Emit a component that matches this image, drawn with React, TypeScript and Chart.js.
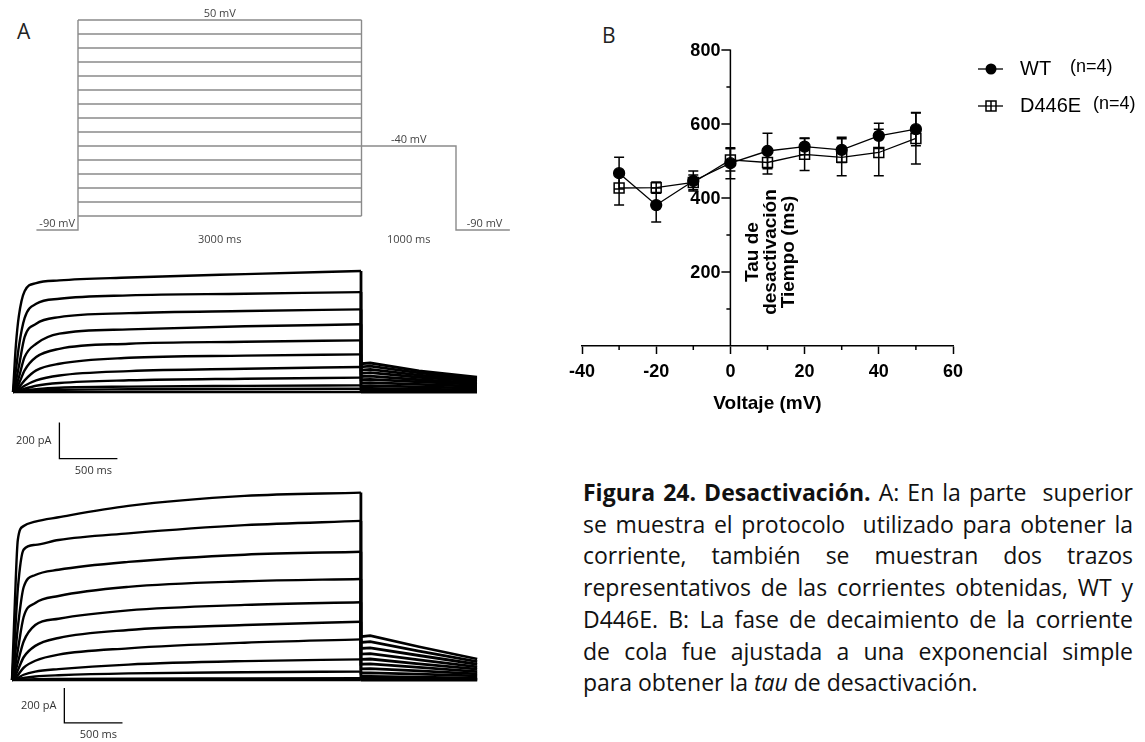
import React, { useEffect, useRef } from 'react';
import { Chart, registerables } from 'chart.js';

Chart.register(...registerables);

// ================= Panel B data (tau of deactivation vs voltage) =================
const voltages = [-30, -20, -10, 0, 10, 20, 30, 40, 50];
const wtTau = [467, 381, 446, 494, 527, 539, 530, 568, 586];
const wtSem = [43, 46, 27, 42, 48, 22, 34, 34, 45];
const d446eTau = [427, 428, 442, 503, 496, 518, 510, 523, 561];
const d446eSem = [46, 15, 20, 30, 31, 44, 50, 63, 69];
const bXTicks = [-40, -20, 0, 20, 40, 60];
const bXMinorTicks = [-30, -10, 10, 30, 50];
const bYTicks = [200, 400, 600, 800];
const bYMinorTicks = [100, 300, 500, 700];
const bYTitleLines = ['Tau de', 'desactivación', 'Tiempo (ms)'];
const bXTitle = 'Voltaje (mV)';
const legendLabels = ['WT', 'D446E'];
const legendN = ['(n=4)', '(n=4)'];

// ================= Panel A: voltage protocol (schematic) =================
const stepLevels = [50, 40, 30, 20, 10, 0, -10, -20, -30, -40, -50, -60, -70, -80, -90];
const tailLevel = -40;
const holdingLevelDrawn = -100; // holding drawn just below the step family in the schematic
const stepDurationMs = 3000;
const tailDurationMs = 1000;
const preHoldMs = 440;
const postHoldMs = 570;

// ================= Panel A: current traces (pA) =================
const riseTimes = [0, 25, 50, 100, 200, 400, 1000, 2000, 3000];
const tailTimes = [3000, 3080, 3500, 4000];

const wtRise = [
  [0, 260, 420, 560, 605, 620, 636, 655, 672],
  [0, 120, 250, 410, 490, 518, 537, 546, 555],
  [0, 60, 140, 305, 379, 416, 438, 450, 459],
  [0, 30, 80, 194, 268, 324, 348, 365, 376],
  [0, 18, 45, 120, 194, 240, 268, 279, 287],
  [0, 10, 25, 65, 120, 157, 190, 202, 209],
  [0, 6, 14, 35, 65, 92, 116, 129, 139],
  [0, 3, 7, 18, 35, 50, 65, 74, 80],
  [0, 2, 4, 9, 16, 24, 30, 34, 37],
  [0, 1, 2, 4, 8, 12, 15, 17, 18],
  [0, 0, 0, 0, 0, 0, 0, 0, 0],
];
const wtTail = [
  [157, 161, 117, 83],
  [140, 144, 106, 76],
  [122, 126, 94, 68],
  [104, 108, 82, 60],
  [86, 88, 68, 50],
  [68, 70, 56, 42],
  [50, 52, 42, 32],
  [34, 35, 28, 22],
  [20, 20, 16, 12],
  [10, 10, 8, 6],
  [0, 0, 0, 0],
];

const mutRise = [
  [0, 450, 800, 880, 905, 930, 995, 1052, 1071],
  [0, 250, 520, 745, 772, 800, 838, 885, 909],
  [0, 130, 300, 530, 600, 630, 675, 716, 733],
  [0, 70, 170, 360, 440, 480, 532, 564, 577],
  [0, 40, 100, 220, 314, 350, 398, 429, 444],
  [0, 20, 55, 130, 195, 240, 286, 314, 333],
  [0, 10, 28, 70, 110, 145, 181, 213, 232],
  [0, 5, 12, 30, 48, 62, 88, 108, 118],
  [0, 2, 5, 12, 20, 27, 38, 44, 48],
  [0, 1, 1, 3, 5, 6, 8, 9, 10],
  [0, 0, 0, 0, 0, 0, 0, 0, 0],
];
const mutTail = [
  [248, 253, 190, 120],
  [215, 219, 165, 105],
  [180, 184, 140, 90],
  [148, 151, 115, 75],
  [118, 120, 92, 62],
  [90, 92, 72, 48],
  [64, 65, 52, 35],
  [40, 41, 33, 23],
  [20, 20, 16, 11],
  [8, 8, 6, 4],
  [0, 0, 0, 0],
];

const scaleBarPa = 200;
const scaleBarMs = 500;

// ================= helpers =================
const AXIS_FONT = '"Liberation Sans", Arial, sans-serif';
const NOTE_FONT = '"Open Sans", sans-serif';

function baseOptions(xMin: number, xMax: number, yMin: number, yMax: number): any {
  return {
    responsive: false,
    animation: false,
    events: [],
    layout: { padding: 0 },
    plugins: { legend: { display: false }, tooltip: { enabled: false } },
    scales: {
      x: { type: 'linear', display: false, min: xMin, max: xMax },
      y: { type: 'linear', display: false, min: yMin, max: yMax },
    },
  };
}

function makeProtocolConfig(g: any): any {
  const xMin = -g.t0x / g.pxPerMs;
  const xMax = xMin + g.width / g.pxPerMs;
  const yMax = stepLevels[0] + g.topY / g.pxPerMv;
  const yMin = yMax - g.height / g.pxPerMv;
  const st = { borderColor: '#8a8a8a', borderWidth: 1.4, pointRadius: 0, fill: false, tension: 0 };
  const datasets: any[] = [];
  stepLevels.forEach((v) => {
    datasets.push({ ...st, data: [{ x: 0, y: v }, { x: stepDurationMs, y: v }] });
  });
  datasets.push({ ...st, data: [{ x: -preHoldMs, y: holdingLevelDrawn }, { x: 0, y: holdingLevelDrawn }, { x: 0, y: stepLevels[0] }] });
  datasets.push({ ...st, data: [{ x: stepDurationMs, y: stepLevels[stepLevels.length - 1] }, { x: stepDurationMs, y: stepLevels[0] }] });
  datasets.push({
    ...st,
    data: [
      { x: stepDurationMs, y: tailLevel },
      { x: stepDurationMs + tailDurationMs, y: tailLevel },
      { x: stepDurationMs + tailDurationMs, y: holdingLevelDrawn },
      { x: stepDurationMs + tailDurationMs + postHoldMs, y: holdingLevelDrawn },
    ],
  });
  const notes = [
    { text: `${stepLevels[0]} mV`, x: stepDurationMs / 2, y: stepLevels[0], dy: -6 },
    { text: `${tailLevel} mV`, x: stepDurationMs + tailDurationMs / 2, y: tailLevel, dy: -6 },
    { text: '-90 mV', x: -preHoldMs / 2, y: holdingLevelDrawn, dy: -6 },
    { text: '-90 mV', x: stepDurationMs + tailDurationMs + postHoldMs * 0.53, y: holdingLevelDrawn, dy: -6 },
    { text: `${stepDurationMs} ms`, x: stepDurationMs / 2, y: holdingLevelDrawn, dy: 10 },
    { text: `${tailDurationMs} ms`, x: stepDurationMs + tailDurationMs / 2, y: holdingLevelDrawn, dy: 10 },
  ];
  const plugin = {
    id: 'protocolNotes',
    afterDraw(chart: any) {
      const { ctx } = chart;
      const xs = chart.scales.x;
      const ys = chart.scales.y;
      ctx.save();
      ctx.fillStyle = '#444';
      ctx.font = `11px ${NOTE_FONT}`;
      ctx.textAlign = 'center';
      ctx.textBaseline = 'middle';
      notes.forEach((n) => {
        ctx.fillText(n.text, xs.getPixelForValue(n.x), ys.getPixelForValue(n.y) + n.dy);
      });
      ctx.restore();
    },
  };
  return { type: 'line', data: { datasets }, options: baseOptions(xMin, xMax, yMin, yMax), plugins: [plugin] };
}

function makeTraceConfig(rise: number[][], tail: number[][], g: any): any {
  const xMin = -g.t0x / g.pxPerMs;
  const xMax = xMin + g.width / g.pxPerMs;
  const yMax = g.baseY / g.pxPerPa;
  const yMin = yMax - g.height / g.pxPerPa;
  const st = { borderColor: '#000', borderWidth: 2.4, pointRadius: 0, fill: false };
  const datasets: any[] = [];
  rise.forEach((vals, k) => {
    datasets.push({ ...st, cubicInterpolationMode: 'monotone', data: riseTimes.map((t, i) => ({ x: t, y: vals[i] })) });
    datasets.push({
      ...st,
      borderWidth: 2.8,
      tension: 0,
      data: [
        { x: riseTimes[riseTimes.length - 1], y: vals[vals.length - 1] },
        ...tailTimes.map((t, i) => ({ x: t, y: tail[k][i] })),
      ],
    });
  });
  datasets.push({
    borderColor: '#000',
    borderWidth: 1.3,
    pointRadius: 0,
    fill: false,
    tension: 0,
    data: [
      { x: g.barT, y: g.barI + scaleBarPa },
      { x: g.barT, y: g.barI },
      { x: g.barT + scaleBarMs, y: g.barI },
    ],
  });
  const plugin = {
    id: 'scaleBarNotes',
    afterDraw(chart: any) {
      const { ctx } = chart;
      const xs = chart.scales.x;
      const ys = chart.scales.y;
      ctx.save();
      ctx.fillStyle = '#333';
      ctx.font = `11px ${NOTE_FONT}`;
      ctx.textBaseline = 'middle';
      ctx.textAlign = 'right';
      ctx.fillText(`${scaleBarPa} pA`, xs.getPixelForValue(g.barT) - 8, ys.getPixelForValue(g.barI + scaleBarPa / 2));
      ctx.textAlign = 'center';
      ctx.fillText(`${scaleBarMs} ms`, xs.getPixelForValue(g.barT + scaleBarMs / 2) + 5, ys.getPixelForValue(g.barI) + 12);
      ctx.restore();
    },
  };
  return { type: 'line', data: { datasets }, options: baseOptions(xMin, xMax, yMin, yMax), plugins: [plugin] };
}

function makeTauConfig(): any {
  const semSets = [wtSem, d446eSem];
  const errorBars = {
    id: 'errorBars',
    beforeDatasetsDraw(chart: any) {
      const { ctx } = chart;
      const ys = chart.scales.y;
      ctx.save();
      ctx.strokeStyle = '#000';
      ctx.lineWidth = 1.5;
      chart.data.datasets.forEach((ds: any, di: number) => {
        const meta = chart.getDatasetMeta(di);
        meta.data.forEach((pt: any, i: number) => {
          const v = ds.data[i].y;
          const e = semSets[di][i];
          const y1 = ys.getPixelForValue(v + e);
          const y2 = ys.getPixelForValue(v - e);
          ctx.beginPath();
          ctx.moveTo(pt.x, y1);
          ctx.lineTo(pt.x, y2);
          ctx.moveTo(pt.x - 5, y1);
          ctx.lineTo(pt.x + 5, y1);
          ctx.moveTo(pt.x - 5, y2);
          ctx.lineTo(pt.x + 5, y2);
          ctx.stroke();
        });
      });
      ctx.restore();
    },
  };
  const decor = {
    id: 'tauDecor',
    afterDraw(chart: any) {
      const { ctx, chartArea } = chart;
      const xs = chart.scales.x;
      const ys = chart.scales.y;
      const x0 = xs.getPixelForValue(0);
      ctx.save();
      ctx.strokeStyle = '#000';
      ctx.fillStyle = '#000';
      ctx.lineWidth = 1.5;
      // minor x ticks
      ctx.beginPath();
      bXMinorTicks.forEach((v) => {
        const px = xs.getPixelForValue(v);
        ctx.moveTo(px, chartArea.bottom);
        ctx.lineTo(px, chartArea.bottom + 4);
      });
      // y axis at x = 0
      ctx.moveTo(x0, ys.getPixelForValue(0));
      ctx.lineTo(x0, ys.getPixelForValue(bYTicks[bYTicks.length - 1]) - 0.5);
      bYTicks.forEach((v) => {
        const py = ys.getPixelForValue(v);
        ctx.moveTo(x0, py);
        ctx.lineTo(x0 - 9, py);
      });
      bYMinorTicks.forEach((v) => {
        const py = ys.getPixelForValue(v);
        ctx.moveTo(x0, py);
        ctx.lineTo(x0 - 4, py);
      });
      ctx.stroke();
      ctx.font = `bold 18px ${AXIS_FONT}`;
      ctx.textAlign = 'right';
      ctx.textBaseline = 'middle';
      bYTicks.forEach((v) => {
        ctx.fillText(String(v), x0 - 10, ys.getPixelForValue(v) + 1);
      });
      // y title, rotated, inside the plot area
      ctx.font = `bold 19px ${AXIS_FONT}`;
      ctx.textAlign = 'center';
      const cy = ys.getPixelForValue(0) - 94;
      bYTitleLines.forEach((line, i) => {
        ctx.save();
        ctx.translate(x0 + 22 + i * 18, cy);
        ctx.rotate(-Math.PI / 2);
        ctx.fillText(line, 0, 0);
        ctx.restore();
      });
      // legend
      const lx = chartArea.right + 25;
      const rows = [69, 106];
      ctx.lineWidth = 1.3;
      legendLabels.forEach((lab, i) => {
        const y = rows[i];
        ctx.beginPath();
        ctx.moveTo(lx, y);
        ctx.lineTo(lx + 25, y);
        ctx.stroke();
        if (i === 0) {
          ctx.beginPath();
          ctx.arc(lx + 13, y, 5.5, 0, Math.PI * 2);
          ctx.fill();
        } else {
          ctx.lineWidth = 1.5;
          ctx.strokeRect(lx + 8, y - 5, 10, 10);
          ctx.beginPath();
          ctx.moveTo(lx + 13, y - 5);
          ctx.lineTo(lx + 13, y + 5);
          ctx.stroke();
        }
        ctx.font = `20px ${AXIS_FONT}`;
        ctx.textAlign = 'left';
        ctx.textBaseline = 'middle';
        ctx.fillText(lab, lx + 42, y);
        ctx.font = `18px ${AXIS_FONT}`;
        ctx.fillText(legendN[i], i === 0 ? lx + 92 : lx + 115, y - 2);
      });
      ctx.restore();
    },
  };
  return {
    type: 'line',
    data: {
      datasets: [
        {
          label: legendLabels[0],
          data: voltages.map((v, i) => ({ x: v, y: wtTau[i] })),
          borderColor: '#000',
          borderWidth: 1.3,
          pointStyle: 'circle',
          pointRadius: 5.5,
          pointBackgroundColor: '#000',
          pointBorderColor: '#000',
          fill: false,
          tension: 0,
          order: 2,
        },
        {
          label: legendLabels[1],
          data: voltages.map((v, i) => ({ x: v, y: d446eTau[i] })),
          borderColor: '#000',
          borderWidth: 1.3,
          pointStyle: 'rect',
          pointRadius: 7,
          pointBorderWidth: 1.5,
          pointBackgroundColor: 'rgba(0,0,0,0)',
          pointBorderColor: '#000',
          fill: false,
          tension: 0,
          order: 1,
        },
      ],
    },
    options: {
      responsive: false,
      animation: false,
      events: [],
      layout: { padding: { left: 22, right: 192, top: 50, bottom: 0 } },
      plugins: { legend: { display: false }, tooltip: { enabled: false } },
      scales: {
        x: {
          type: 'linear',
          position: 'bottom',
          min: bXTicks[0],
          max: bXTicks[bXTicks.length - 1],
          afterBuildTicks: (s: any) => {
            s.ticks = bXTicks.map((v) => ({ value: v }));
          },
          afterFit: (s: any) => {
            s.height = 84;
          },
          border: { display: true, color: '#000', width: 1.5 },
          grid: { display: true, drawOnChartArea: false, drawTicks: true, tickLength: 8, tickWidth: 1.5, tickColor: '#000' },
          ticks: { color: '#000', font: { family: AXIS_FONT, size: 18, weight: 'bold' }, padding: 7, maxRotation: 0, autoSkip: false },
          title: { display: true, text: bXTitle, color: '#000', font: { family: AXIS_FONT, size: 19, weight: 'bold' }, padding: { top: 0, bottom: 15 } },
        },
        y: { type: 'linear', display: false, min: 0, max: bYTicks[bYTicks.length - 1] },
      },
    },
    plugins: [errorBars, decor],
  };
}

function ChartCanvas(props: { left: number; top: number; width: number; height: number; make: () => any }) {
  const ref = useRef<HTMLCanvasElement | null>(null);
  useEffect(() => {
    const chart = new Chart(ref.current as HTMLCanvasElement, props.make());
    return () => chart.destroy();
  }, []);
  return (
    <canvas
      ref={ref}
      width={props.width}
      height={props.height}
      style={{ position: 'absolute', left: props.left, top: props.top, width: props.width, height: props.height }}
    />
  );
}

const protoGeom = { width: 530, height: 250, t0x: 78, pxPerMs: 0.0945, topY: 20, pxPerMv: 1.4 };
const wtGeom = { width: 490, height: 230, t0x: 13, pxPerMs: 0.116, baseY: 137, pxPerPa: 0.18, barT: 400, barI: -370 };
const mutGeom = { width: 490, height: 272, t0x: 12, pxPerMs: 0.1163, baseY: 210, pxPerPa: 0.175, barT: 450, barI: -245 };

const lineJ: any = { textAlign: 'justify', textAlignLast: 'justify', whiteSpace: 'nowrap' };

export default function App() {
  return (
    <div style={{ position: 'absolute', left: 0, top: 0, width: 1145, height: 742, background: '#fff', overflow: 'hidden' }}>
      <div style={{ position: 'absolute', left: 17, top: 21, fontFamily: NOTE_FONT, fontSize: 21, lineHeight: '21px', color: '#222' }}>A</div>
      <div style={{ position: 'absolute', left: 602, top: 25, fontFamily: NOTE_FONT, fontSize: 21, lineHeight: '21px', color: '#222' }}>B</div>
      <ChartCanvas left={0} top={0} width={protoGeom.width} height={protoGeom.height} make={() => makeProtocolConfig(protoGeom)} />
      <ChartCanvas left={0} top={255} width={wtGeom.width} height={wtGeom.height} make={() => makeTraceConfig(wtRise, wtTail, wtGeom)} />
      <ChartCanvas left={0} top={470} width={mutGeom.width} height={mutGeom.height} make={() => makeTraceConfig(mutRise, mutTail, mutGeom)} />
      <ChartCanvas left={560} top={0} width={585} height={430} make={makeTauConfig} />
      <div
        style={{
          position: 'absolute',
          left: 583,
          top: 477,
          width: 550,
          fontFamily: NOTE_FONT,
          fontSize: 23,
          lineHeight: '31.7px',
          color: '#111',
        }}
      >
        <div style={lineJ}>
          <b>Figura 24. Desactivación.</b> A: En la parte&nbsp; superior
        </div>
        <div style={lineJ}>se muestra el protocolo&nbsp; utilizado para obtener la</div>
        <div style={lineJ}>corriente, también se muestran dos trazos</div>
        <div style={lineJ}>representativos de las corrientes obtenidas, WT y</div>
        <div style={lineJ}>D446E. B: La fase de decaimiento de la corriente</div>
        <div style={lineJ}>de cola fue ajustada a una exponencial simple</div>
        <div style={{ whiteSpace: 'nowrap' }}>
          para obtener la <i>tau</i> de desactivación.
        </div>
      </div>
    </div>
  );
}
